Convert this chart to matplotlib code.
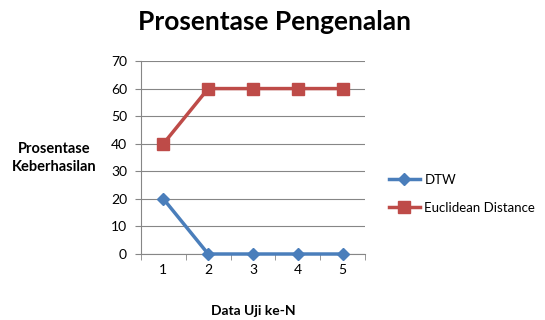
import matplotlib
matplotlib.use("Agg")
import matplotlib.pyplot as plt
import numpy as np

categories = ["1", "2", "3", "4", "5"]
dtw = [20, 0, 0, 0, 0]
euclid = [40, 60, 60, 60, 60]
yticks = [0, 10, 20, 30, 40, 50, 60, 70]

plt.rcParams['font.family'] = ['Lato', 'DejaVu Sans']

fig = plt.figure(figsize=(5.45, 3.2), dpi=100)
ax = fig.add_axes([141/545, 66/320, 224/545, 193/320])

x = np.arange(1, len(categories) + 1)
ax.plot(x, dtw, color='#4A7EBB', lw=2.5, marker='D', ms=6.5, label='DTW', clip_on=False, zorder=3)
ax.plot(x, euclid, color='#BE4B48', lw=2.5, marker='s', ms=8, label='Euclidean Distance', clip_on=False, zorder=3)

ax.set_xlim(0.5, len(categories) + 0.5)
ax.set_ylim(0, 70)
ax.set_yticks(yticks)
ax.set_yticklabels([str(v) for v in yticks], fontsize=10)
ax.set_xticks(x)
ax.set_xticklabels(categories, fontsize=10)
ax.set_xticks(np.arange(0.5, len(categories) + 1, 1), minor=True)
ax.tick_params(axis='x', which='major', length=0, pad=7)
ax.tick_params(axis='x', which='minor', length=4, color='#868686', direction='out')
ax.tick_params(axis='y', length=4, color='#868686', pad=6)
ax.grid(axis='y', color='#868686', lw=0.8)
ax.set_axisbelow(True)
for s in ['top', 'right']:
    ax.spines[s].set_visible(False)
for s in ['left', 'bottom']:
    ax.spines[s].set_color('#868686')
    ax.spines[s].set_linewidth(0.8)

fig.text(274/545, 1 - 22/320, 'Prosentase Pengenalan', ha='center', va='center', fontsize=19, fontweight='bold')
fig.text(253/545, 1 - 311/320, 'Data Uji ke-N', ha='center', va='center', fontsize=10, fontweight='bold')
fig.text(54/545, 1 - 158/320, 'Prosentase\nKeberhasilan', ha='center', va='center', fontsize=10.5, fontweight='bold', linespacing=1.3)

fig.legend(loc='center left', bbox_to_anchor=(386/545, 1 - 194/320), frameon=False, fontsize=9.5,
           handlelength=2.4, labelspacing=1.2, handletextpad=0.3, borderaxespad=0, borderpad=0.2)

fig.savefig('out.png', dpi=100)
